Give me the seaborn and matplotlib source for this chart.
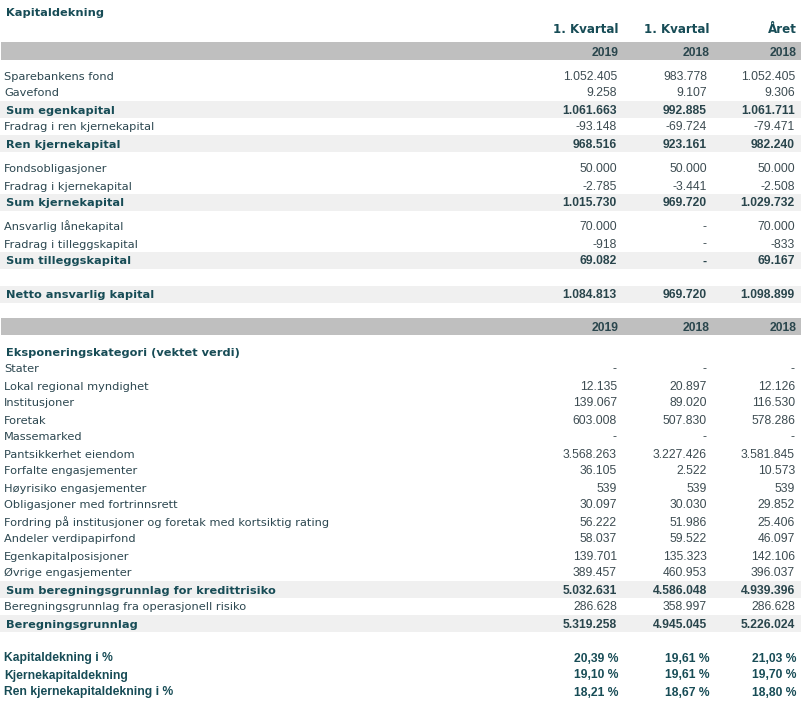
"""Kapitaldekning table, redrawn with seaborn/matplotlib."""

import matplotlib

matplotlib.use("Agg")
import matplotlib.pyplot as plt
import seaborn as sns

# --- data -----------------------------------------------------------------
col_titles = ["1. Kvartal", "1. Kvartal", "Året"]
col_years = ["2019", "2018", "2018"]

cap_labels = [
    "Sparebankens fond", "Gavefond", "Sum egenkapital",
    "Fradrag i ren kjernekapital", "Ren kjernekapital",
    "Fondsobligasjoner", "Fradrag i kjernekapital", "Sum kjernekapital",
    "Ansvarlig lånekapital", "Fradrag i tilleggskapital", "Sum tilleggskapital",
    "Netto ansvarlig kapital",
]
cap_2019 = [1052405, 9258, 1061663, -93148, 968516,
            50000, -2785, 1015730, 70000, -918, 69082, 1084813]
cap_q2018 = [983778, 9107, 992885, -69724, 923161,
             50000, -3441, 969720, None, None, None, 969720]
cap_y2018 = [1052405, 9306, 1061711, -79471, 982240,
             50000, -2508, 1029732, 70000, -833, 69167, 1098899]
cap_sum = [False, False, True, False, True,
           False, False, True, False, False, True, True]

risk_heading = "Eksponeringskategori (vektet verdi)"
risk_labels = [
    "Stater", "Lokal regional myndighet", "Institusjoner", "Foretak",
    "Massemarked", "Pantsikkerhet eiendom", "Forfalte engasjementer",
    "Høyrisiko engasjementer", "Obligasjoner med fortrinnsrett",
    "Fordring på institusjoner og foretak med kortsiktig rating",
    "Andeler verdipapirfond", "Egenkapitalposisjoner", "Øvrige engasjementer",
    "Sum beregningsgrunnlag for kredittrisiko",
    "Beregningsgrunnlag fra operasjonell risiko", "Beregningsgrunnlag",
]
risk_2019 = [None, 12135, 139067, 603008, None, 3568263, 36105, 539, 30097,
             56222, 58037, 139701, 389457, 5032631, 286628, 5319258]
risk_q2018 = [None, 20897, 89020, 507830, None, 3227426, 2522, 539, 30030,
              51986, 59522, 135323, 460953, 4586048, 358997, 4945045]
risk_y2018 = [None, 12126, 116530, 578286, None, 3581845, 10573, 539, 29852,
              25406, 46097, 142106, 396037, 4939396, 286628, 5226024]
risk_sum = [False] * 13 + [True, False, True]

ratio_labels = ["Kapitaldekning i %", "Kjernekapitaldekning",
                "Ren kjernekapitaldekning i %"]
ratio_2019 = [20.39, 19.10, 18.21]
ratio_q2018 = [19.61, 19.61, 18.67]
ratio_y2018 = [21.03, 19.70, 18.80]

# --- layout / style ---------------------------------------------------------
W, H = 809, 713
STEP = 17
cap_groups = [(75, 5), (168, 3), (226, 3), (294, 1)]
risk_top = 368
ratio_top = 657
num_right = [617, 707, 795]
head_right = [619, 710, 797]
TEAL = "#174c56"
LABEL = "#2c4750"
NUM = "#3d4c52"
BAND = "#f0f0f0"
BAR = "#bfbfbf"
VERD = ["DejaVu Sans"]
ARIAL = ["Liberation Sans", "DejaVu Sans"]


def fmt_num(v):
    return "-" if v is None else f"{v:,}".replace(",", ".")


def fmt_pct(v):
    return f"{v:.2f}".replace(".", ",") + " %"


def group_rows(groups):
    ys = []
    for start, n in groups:
        ys += [start + STEP * i for i in range(n)]
    return ys


sns.set_theme(style="white")
plt.rcParams["font.family"] = VERD

fig = plt.figure(figsize=(W / 100, H / 100), dpi=100)
ax = fig.add_axes([0, 0, 1, 1])
ax.set_xlim(0, W)
ax.set_ylim(H, 0)
ax.axis("off")


def draw_rows(ys, labels, cols, sums):
    for i, (y, lab) in enumerate(zip(ys, labels)):
        bold = sums[i]
        if bold:
            ax.axhspan(y - 8.5, y + 8.5, xmin=0, xmax=801 / W, color=BAND, lw=0)
        ax.text(6 if bold else 4, y + 4.5, lab, family=VERD, size=8.2,
                weight="bold" if bold else "normal",
                color=TEAL if bold else LABEL, va="baseline", ha="left")
        for x, col in zip(num_right, cols):
            ax.text(x, y + 4.5, fmt_num(col[i]), family=ARIAL, size=8.7,
                    weight="bold" if bold else "normal",
                    color="#29454c" if bold else NUM, va="baseline", ha="right")


def draw_year_bar(y0, y1):
    ax.axhspan(y0, y1, xmin=1 / W, xmax=801 / W, color=BAR, lw=0)
    for x, yr in zip(head_right, col_years):
        ax.text(x, (y0 + y1) / 2 + 4.5, yr, family=ARIAL, size=8.7,
                weight="bold", color="#2a464d", va="baseline", ha="right")


# title and column headers
ax.text(6, 16, "Kapitaldekning", family=VERD, size=8.2, weight="bold",
        color=TEAL, va="baseline")
for x, t in zip(head_right, col_titles):
    ax.text(x, 33, t, family=VERD, size=8.6, weight="bold", color=TEAL,
            va="baseline", ha="right")
draw_year_bar(42, 60)

draw_rows(group_rows(cap_groups), cap_labels,
          [cap_2019, cap_q2018, cap_y2018], cap_sum)

draw_year_bar(318, 335)
ax.text(6, 356, risk_heading, family=VERD, size=8.2, weight="bold",
        color=TEAL, va="baseline")
draw_rows(group_rows([(risk_top, len(risk_labels))]), risk_labels,
          [risk_2019, risk_q2018, risk_y2018], risk_sum)

for i, lab in enumerate(ratio_labels):
    y = ratio_top + STEP * i + 4.5
    ax.text(4, y, lab, family=ARIAL, size=8.7, weight="bold", color=TEAL,
            va="baseline")
    for x, col in zip(head_right, [ratio_2019, ratio_q2018, ratio_y2018]):
        ax.text(x, y, fmt_pct(col[i]), family=ARIAL, size=8.7, weight="bold",
                color=TEAL, va="baseline", ha="right")

fig.savefig("out.png", dpi=100, facecolor="white")
plt.close(fig)
